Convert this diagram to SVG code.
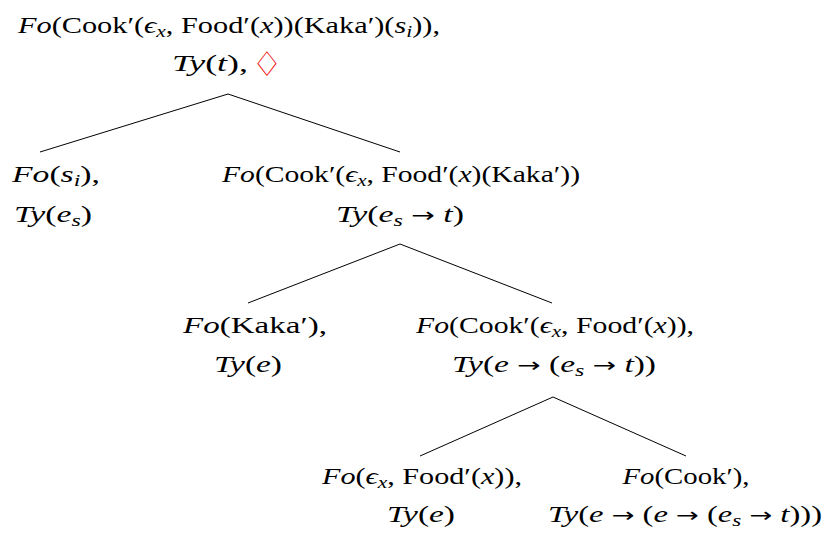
<svg xmlns="http://www.w3.org/2000/svg" width="824" height="534" viewBox="0 0 824 534">
  <style>
    .t { font-family: "Liberation Serif", "DejaVu Serif", serif; font-size: 24px; fill: #000; text-anchor: middle; }
    .i { font-style: italic; }
    .s { font-style: italic; font-size: 17px; }
    .ar { font-family: "DejaVu Sans", sans-serif; font-size: 20px; }
    .dia { font-family: "DejaVu Sans", sans-serif; fill: #e00; font-size: 34px; text-anchor: middle; }
    .edge { stroke: #000; stroke-width: 1; fill: none; }
  </style>
  <rect width="824" height="534" fill="#fff"/>

  <!-- tree edges -->
  <g id="connectors">
    <path class="edge" d="M228 94 L40 152 M228 94 L400 152"/>
    <path class="edge" d="M400 244 L248 303 M400 244 L552 303"/>
    <path class="edge" d="M553 397 L420 456 M553 397 L686 456"/>
  </g>

  <!-- root -->
  <g id="root">
    <text class="t" x="229" y="33" textLength="422" lengthAdjust="spacingAndGlyphs"><tspan class="i">Fo</tspan>(Cook′(<tspan class="i">ϵ</tspan><tspan class="s" dy="4">x</tspan><tspan dy="-4">, Food′(</tspan><tspan class="i">x</tspan>))(Kaka′)(<tspan class="i">s</tspan><tspan class="s" dy="4">i</tspan><tspan dy="-4">)),</tspan></text>
    <text class="t" x="210" y="71" textLength="76" lengthAdjust="spacingAndGlyphs"><tspan class="i">Ty</tspan>(<tspan class="i">t</tspan>),</text>
    <text class="dia" x="267" y="76">♢</text>
  </g>

  <!-- subject node -->
  <g id="node-subject">
    <text class="t" x="56" y="182" textLength="88" lengthAdjust="spacingAndGlyphs"><tspan class="i">Fo</tspan>(<tspan class="i">s</tspan><tspan class="s" dy="4">i</tspan><tspan dy="-4">),</tspan></text>
    <text class="t" x="53" y="222" textLength="78" lengthAdjust="spacingAndGlyphs"><tspan class="i">Ty</tspan>(<tspan class="i">e</tspan><tspan class="s" dy="4">s</tspan><tspan dy="-4">)</tspan></text>
  </g>

  <!-- predicate node -->
  <g id="node-predicate">
    <text class="t" x="401" y="182" textLength="358" lengthAdjust="spacingAndGlyphs"><tspan class="i">Fo</tspan>(Cook′(<tspan class="i">ϵ</tspan><tspan class="s" dy="4">x</tspan><tspan dy="-4">, Food′(</tspan><tspan class="i">x</tspan>)(Kaka′))</text>
    <text class="t" x="400" y="222" textLength="128" lengthAdjust="spacingAndGlyphs"><tspan class="i">Ty</tspan>(<tspan class="i">e</tspan><tspan class="s" dy="4">s</tspan><tspan dy="-4"> </tspan><tspan class="ar">→</tspan> <tspan class="i">t</tspan>)</text>
  </g>

  <!-- object node -->
  <g id="node-object">
    <text class="t" x="255" y="333" textLength="144" lengthAdjust="spacingAndGlyphs"><tspan class="i">Fo</tspan>(Kaka′),</text>
    <text class="t" x="248" y="372" textLength="68" lengthAdjust="spacingAndGlyphs"><tspan class="i">Ty</tspan>(<tspan class="i">e</tspan>)</text>
  </g>

  <!-- transitive verb phrase node -->
  <g id="node-vp">
    <text class="t" x="555" y="333" textLength="278" lengthAdjust="spacingAndGlyphs"><tspan class="i">Fo</tspan>(Cook′(<tspan class="i">ϵ</tspan><tspan class="s" dy="4">x</tspan><tspan dy="-4">, Food′(</tspan><tspan class="i">x</tspan>)),</text>
    <text class="t" x="554" y="372" textLength="204" lengthAdjust="spacingAndGlyphs"><tspan class="i">Ty</tspan>(<tspan class="i">e</tspan> <tspan class="ar">→</tspan> (<tspan class="i">e</tspan><tspan class="s" dy="4">s</tspan><tspan dy="-4"> </tspan><tspan class="ar">→</tspan> <tspan class="i">t</tspan>))</text>
  </g>

  <!-- food argument node -->
  <g id="node-food">
    <text class="t" x="422" y="484" textLength="200" lengthAdjust="spacingAndGlyphs"><tspan class="i">Fo</tspan>(<tspan class="i">ϵ</tspan><tspan class="s" dy="4">x</tspan><tspan dy="-4">, Food′(</tspan><tspan class="i">x</tspan>)),</text>
    <text class="t" x="421" y="522" textLength="68" lengthAdjust="spacingAndGlyphs"><tspan class="i">Ty</tspan>(<tspan class="i">e</tspan>)</text>
  </g>

  <!-- verb node -->
  <g id="node-verb">
    <text class="t" x="686" y="484" textLength="127" lengthAdjust="spacingAndGlyphs"><tspan class="i">Fo</tspan>(Cook′),</text>
    <text class="t" x="685" y="522" textLength="274" lengthAdjust="spacingAndGlyphs"><tspan class="i">Ty</tspan>(<tspan class="i">e</tspan> <tspan class="ar">→</tspan> (<tspan class="i">e</tspan> <tspan class="ar">→</tspan> (<tspan class="i">e</tspan><tspan class="s" dy="4">s</tspan><tspan dy="-4"> </tspan><tspan class="ar">→</tspan> <tspan class="i">t</tspan>)))</text>
  </g>
</svg>
